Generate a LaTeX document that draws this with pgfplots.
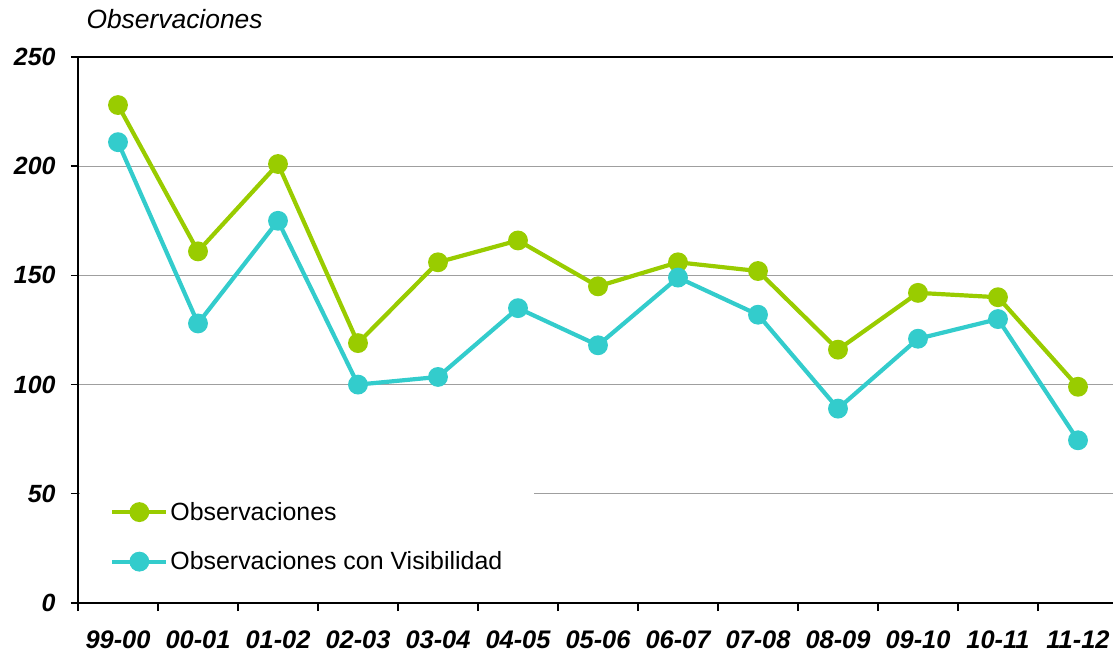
\documentclass[border=0pt]{standalone}
\usepackage{fontspec}
\setmainfont{Liberation Sans}
\usepackage{pgfplots}
\pgfplotsset{compat=1.18}
\definecolor{obsgreen}{RGB}{153,204,0}
\definecolor{obscyan}{RGB}{51,204,204}
\begin{document}
\begin{tikzpicture}
\begin{axis}[
  name=ax,
  scale only axis,
  width=1036bp, height=546bp,
  xmin=-0.5, xmax=12.45,
  ymin=0, ymax=250,
  axis x line*=bottom, axis y line*=left,
  axis line style={line width=1.6bp, black, -},
  xtick={0,...,12},
  xticklabels={99-00,00-01,01-02,02-03,03-04,04-05,05-06,06-07,07-08,08-09,09-10,10-11,11-12},
  minor xtick={-0.5,0.5,...,11.5},
  x tick style={draw=none},
  minor x tick style={draw=black, line width=1.4bp},
  minor tick length=8bp,
  ytick={0,50,...,250},
  y tick style={draw=black, line width=1.4bp},
  major tick length=7bp,
  tick align=outside,
  xticklabel style={font=\fontsize{25.5}{30}\selectfont\bfseries\itshape, yshift=-17bp},
  yticklabel style={font=\fontsize{25}{30}\selectfont\bfseries\itshape, xshift=-12bp},
  ymajorgrids,
  major grid style={gray!75, line width=0.7bp},
  /pgf/number format/assume math mode=true,
  legend style={at={(rel axis cs:0.002,0.225)}, anchor=north west,
    draw=none, fill=white, inner xsep=30bp, inner ysep=20bp,
    font=\fontsize{25}{30}\selectfont, row sep=26bp,
    legend cell align=left},
  legend image code/.code={%
    \draw[#1, mark=none] (0bp,0bp) -- (54bp,0bp);
    \path[#1, only marks] plot coordinates {(27bp,0bp)};},
  every axis plot/.append style={line width=4.2bp, mark=*, mark size=7.8bp},
  clip=false,
]
\addplot[color=obsgreen, mark options={fill=obsgreen, draw=obsgreen}] coordinates {
  (0,228) (1,161) (2,201) (3,119) (4,156) (5,166) (6,145) (7,156) (8,152) (9,116) (10,142) (11,140) (12,99)
};
\addlegendentry{Observaciones}
\addplot[color=obscyan, mark options={fill=obscyan, draw=obscyan}] coordinates {
  (0,211) (1,128) (2,175) (3,100) (4,103.5) (5,135) (6,118) (7,149) (8,132) (9,89) (10,121) (11,130) (12,74.5)
};
\addlegendentry{Observaciones con Visibilidad}
\draw[black, line width=1.6bp] (rel axis cs:0,1) -- (rel axis cs:1,1);
\node[anchor=west, font=\fontsize{26.5}{30}\selectfont\itshape] at ([xshift=5bp,yshift=38bp]rel axis cs:0,1) {Observaciones};
\end{axis}
\pgfresetboundingbox
\path[use as bounding box] ([xshift=-78bp,yshift=-52bp]ax.south west) rectangle ++(1113bp,655bp);
\end{tikzpicture}
\end{document}
